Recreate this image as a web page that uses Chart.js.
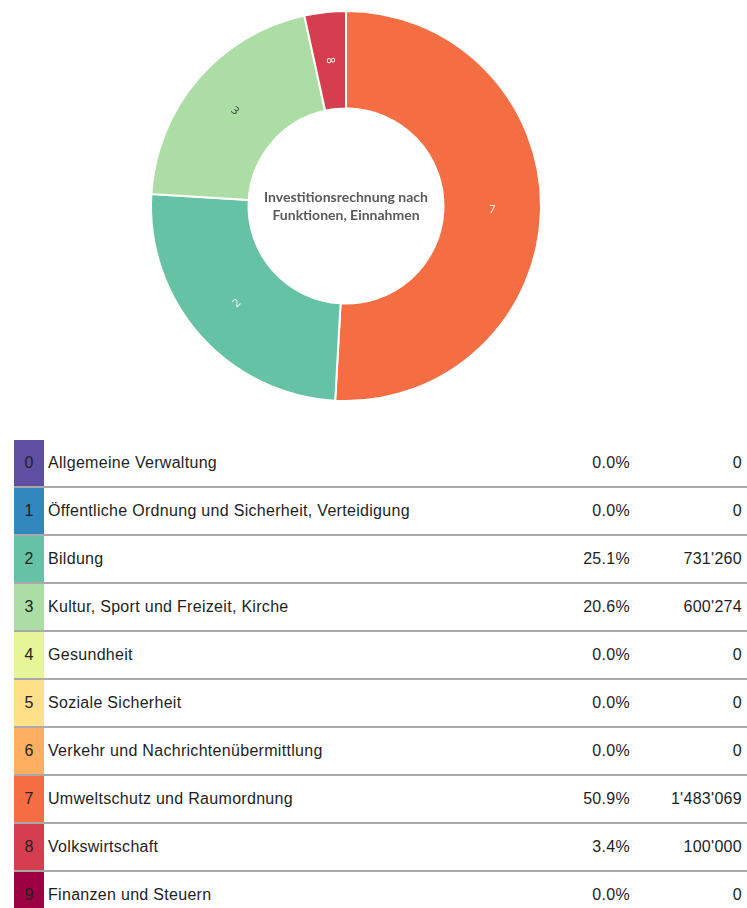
<!DOCTYPE html>
<html>
<head>
<meta charset="utf-8">
<script src="https://cdn.jsdelivr.net/npm/chart.js@4/dist/chart.umd.min.js"></script>
<style>
  html, body { margin: 0; padding: 0; background: #fff; overflow: hidden; }
  #chartBox { position: absolute; left: 0; top: 10px; width: 692px; height: 392px; }
  #fnTable {
    position: absolute; left: 14px; top: 440px; width: 733px;
    border-collapse: collapse; table-layout: fixed;
    font-family: "Liberation Sans", Arial, sans-serif; font-size: 16px; letter-spacing: 0.3px; color: #1e1e1e;
  }
  #fnTable td { height: 46px; padding: 0; vertical-align: middle; border-bottom: 2px solid #a9a9a9; white-space: nowrap; }
  #fnTable td.code { width: 30px; text-align: center; color: #222; letter-spacing: 0; }
  #fnTable td.name { padding-left: 4px; }
  #fnTable td.pct { width: 100px; text-align: right; padding-right: 5px; }
  #fnTable td.val { width: 107px; text-align: right; padding-right: 5px; }
</style>
</head>
<body>
<div id="chartBox"><canvas id="fnChart"></canvas></div>
<table id="fnTable"><tbody id="fnBody"></tbody></table>

<script>
// Investitionsrechnung nach Funktionen, Einnahmen
const codes = ['0', '1', '2', '3', '4', '5', '6', '7', '8', '9'];
const names = [
  'Allgemeine Verwaltung',
  'Öffentliche Ordnung und Sicherheit, Verteidigung',
  'Bildung',
  'Kultur, Sport und Freizeit, Kirche',
  'Gesundheit',
  'Soziale Sicherheit',
  'Verkehr und Nachrichtenübermittlung',
  'Umweltschutz und Raumordnung',
  'Volkswirtschaft',
  'Finanzen und Steuern'
];
const amounts = [0, 0, 731260, 600274, 0, 0, 0, 1483069, 100000, 0];
const colors = ['#5e4fa2', '#3288bd', '#66c2a5', '#abdda4', '#e6f598', '#fee08b', '#fdae61', '#f46d43', '#d53e4f', '#9e0142'];
const centerTitle = ['Investitionsrechnung nach', 'Funktionen, Einnahmen'];

const total = amounts.reduce((a, b) => a + b, 0);

function formatAmount(v) {
  return Math.round(v).toString().replace(/\B(?=(\d{3})+(?!\d))/g, "'");
}

function isLight(hex) {
  const r = parseInt(hex.substr(1, 2), 16), g = parseInt(hex.substr(3, 2), 16), b = parseInt(hex.substr(5, 2), 16);
  return (0.299 * r + 0.587 * g + 0.114 * b) > 170;
}

// table under the chart
const tbody = document.getElementById('fnBody');
codes.forEach((code, i) => {
  const row = tbody.insertRow();
  const pct = total > 0 ? (amounts[i] / total * 100).toFixed(1) : '0.0';
  row.innerHTML = `
    <td class="code" style="background:${colors[i]}">${code}</td>
    <td class="name">${names[i]}</td>
    <td class="pct">${pct}%</td>
    <td class="val">${formatAmount(amounts[i])}</td>
  `;
});

// doughnut only shows non-zero slices, biggest first
const order = codes.map((c, i) => i).filter(i => amounts[i] > 0).sort((a, b) => amounts[b] - amounts[a]);

const sliceLabels = {
  id: 'sliceLabels',
  afterDatasetsDraw(chart) {
    const ctx = chart.ctx;
    const meta = chart.getDatasetMeta(0);
    ctx.save();
    ctx.font = '11px "Open Sans", sans-serif';
    ctx.textAlign = 'center';
    ctx.textBaseline = 'middle';
    meta.data.forEach((arc, k) => {
      const p = arc.getProps(['x', 'y', 'startAngle', 'endAngle', 'innerRadius', 'outerRadius'], true);
      const mid = (p.startAngle + p.endAngle) / 2;
      const r = (p.innerRadius + p.outerRadius) / 2;
      let rot = Math.atan2(Math.sin(mid), Math.cos(mid));
      if (rot > Math.PI / 2) rot -= Math.PI;
      if (rot < -Math.PI / 2) rot += Math.PI;
      const idx = order[k];
      ctx.save();
      ctx.translate(p.x + Math.cos(mid) * r, p.y + Math.sin(mid) * r);
      ctx.rotate(rot);
      ctx.fillStyle = isLight(colors[idx]) ? '#333' : '#fff';
      ctx.fillText(codes[idx], 0, 0);
      ctx.restore();
    });
    ctx.restore();
  }
};

const centerText = {
  id: 'centerText',
  afterDraw(chart) {
    const arc = chart.getDatasetMeta(0).data[0];
    if (!arc) return;
    const ctx = chart.ctx;
    ctx.save();
    ctx.font = 'bold 14px Lato, "Open Sans", sans-serif';
    ctx.fillStyle = '#5a5a5a';
    ctx.textAlign = 'center';
    ctx.textBaseline = 'middle';
    ctx.fillText(centerTitle[0], arc.x, arc.y - 9);
    ctx.fillText(centerTitle[1], arc.x, arc.y + 9);
    ctx.restore();
  }
};

new Chart(document.getElementById('fnChart'), {
  type: 'doughnut',
  data: {
    labels: order.map(i => codes[i] + ' ' + names[i]),
    datasets: [{
      data: order.map(i => amounts[i]),
      backgroundColor: order.map(i => colors[i]),
      borderColor: '#fff',
      borderWidth: 2,
      hoverOffset: 0
    }]
  },
  options: {
    responsive: true,
    maintainAspectRatio: false,
    animation: false,
    cutout: '50%',
    layout: { padding: 0 },
    plugins: {
      legend: { display: false },
      tooltip: { enabled: false }
    }
  },
  plugins: [sliceLabels, centerText]
});
</script>
</body>
</html>
